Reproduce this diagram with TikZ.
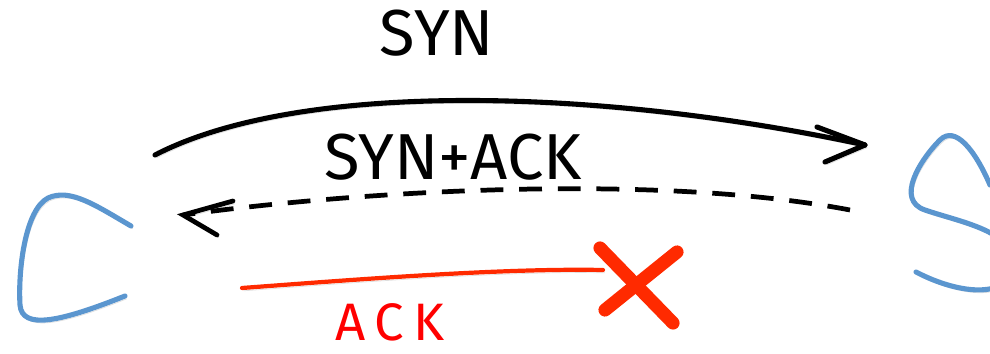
\documentclass[tikz,border=0pt]{standalone}
\usepackage{fontspec}
\setmainfont{Fira Sans}
\definecolor{peerblue}{HTML}{5B96CF}
\definecolor{lossred}{HTML}{FF2A00}
\begin{document}
\begin{tikzpicture}[x=0.02cm, y=-0.02cm,
  soft/.style={preaction={draw=black, draw opacity=0.13, transform canvas={shift={(1pt,-1.6pt)}}}},
  peer/.style={soft, draw=peerblue, line width=2.9pt, line cap=round, line join=round},
  msg/.style={soft, draw=black, line width=2.9pt, line cap=round, line join=round},
  dashmsg/.style={draw=black, line width=2.7pt, dash pattern=on 13pt off 9pt},
  barb/.style={soft, draw=black, line width=2.7pt, line cap=round},
  lost/.style={soft, draw=lossred, line width=2.4pt, line cap=round},
  cross/.style={soft, draw=lossred, line width=7.5pt, line cap=round},
  lbl/.style={inner sep=0pt, font=\fontsize{37}{40}\selectfont}
]
\useasboundingbox (0,0) rectangle (990,354);

% client and server glyphs
\draw[peer] (131,226) .. controls (95,205) and (70,188) .. (48,198)
  .. controls (25,210) and (18,270) .. (20,305)
  .. controls (22,330) and (60,322) .. (125,296);
\draw[peer] (990,185) .. controls (975,150) and (955,125) .. (940,140)
  .. controls (920,160) and (895,200) .. (925,210)
  .. controls (960,222) and (1010,230) .. (1015,262)
  .. controls (1012,300) and (960,295) .. (916,272);

% message end points
\coordinate (synA) at (155,155);
\coordinate (synB) at (865,145);
\coordinate (saA) at (850,210);
\coordinate (saB) at (183,215);
\coordinate (ackA) at (242,288);
\coordinate (ackB) at (603,270);

% SYN
\draw[msg] (synA) .. controls (300,80) and (600,88) .. (synB);
\draw[msg] (817,127) -- (synB) -- (825,162);
\node[lbl] (syn) at (437,33) {SYN};

% SYN+ACK (dashed, returning)
\draw[dashmsg] (saA) .. controls (650,172) and (350,192) .. (saB);
\draw[barb] (233,201) -- (saB) -- (217,235);
\node[lbl] (synack) at (453,157) {SYN+ACK};

% ACK that never arrives
\draw[lost] (ackA) .. controls (350,280) and (500,268) .. (ackB);
\draw[cross] (600,248) -- (673,323);
\draw[cross] (677,252) -- (605,310);
\node[lbl, text=red, font=\fontsize{30}{32}\selectfont] (ack) at (390,322) {A\,C\,K};
\end{tikzpicture}
\end{document}
